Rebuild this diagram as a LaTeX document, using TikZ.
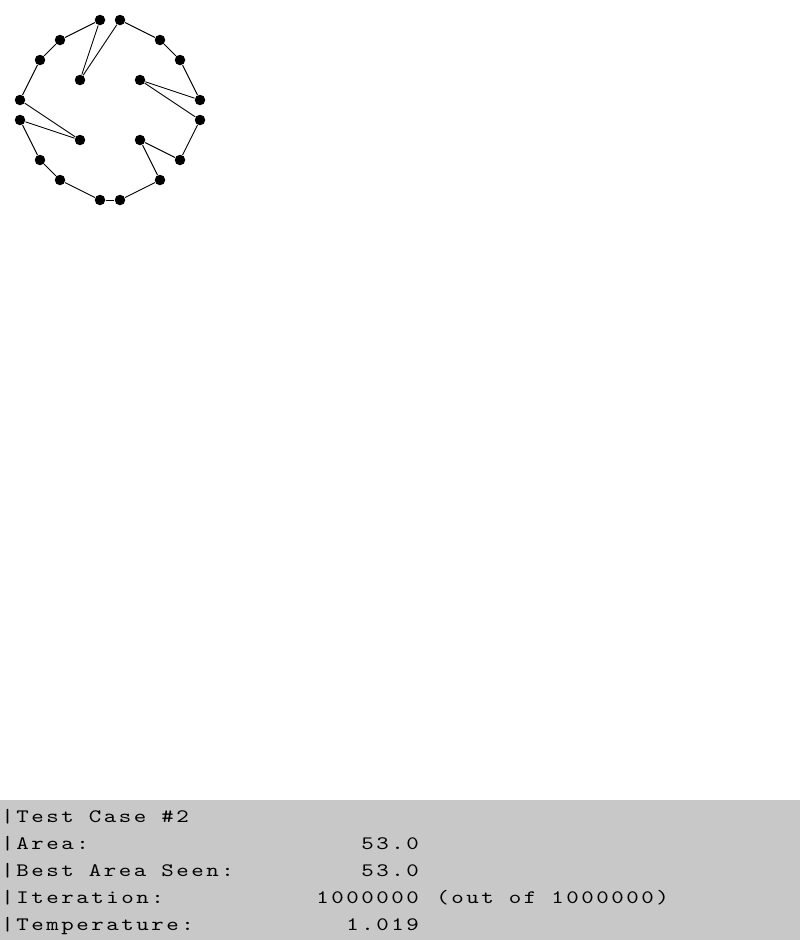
\documentclass[tikz,border=0pt]{standalone}
\usepackage{fontspec}
\newfontfamily\termfont[LetterSpace=13.3,FakeStretch=1.25]{lmmono10-regular.otf}
\definecolor{panelgray}{RGB}{200,200,200}
\tikzset{
  dot/.style={circle,fill=black,inner sep=0pt,minimum size=10.5pt},
  readout/.style={anchor=base west,inner sep=0pt,font=\termfont\fontsize{19}{19}\selectfont},
}
\begin{document}
\begin{tikzpicture}[x=1pt,y=-1pt,line width=0.9pt]
  \useasboundingbox (0,0) rectangle (800,940);
  \fill[panelgray] (0,800) rectangle (800,940);
  % polygon vertices, in tour order
  \foreach \i/\x/\y in {1/100/20,2/60/40,3/40/60,4/20/100,5/80/140,6/20/120,7/40/160,
      8/60/180,9/100/200,10/120/200,11/160/180,12/140/140,13/180/160,14/200/120,
      15/140/80,16/200/100,17/180/60,18/160/40,19/120/20,20/80/80} {
    \node[dot] (p\i) at (\x,\y) {};
  }
  \foreach \i [evaluate=\i as \j using {int(mod(\i,20)+1)}] in {1,...,20} {
    \draw (p\i) -- (p\j);
  }
  % status panel
  \node[readout] (title) at (1,822.5) {|Test Case \#2};
  \node[readout] (area) at (1,849.5) {|Area:};
  \node[readout] (areaval) at (361,849.5) {53.0};
  \node[readout] (best) at (1,876.5) {|Best Area Seen:};
  \node[readout] (bestval) at (361,876.5) {53.0};
  \node[readout] (iter) at (1,903.5) {|Iteration:};
  \node[readout] (iterval) at (316,903.5) {1000000};
  \node[readout] (iterof) at (436,903.5) {(out of 1000000)};
  \node[readout] (temp) at (1,930.5) {|Temperature:};
  \node[readout] (tempval) at (346,930.5) {1.019};
\end{tikzpicture}
\end{document}
